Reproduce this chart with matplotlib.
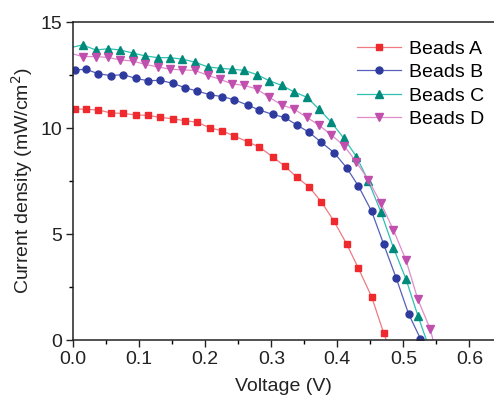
import matplotlib
matplotlib.use('Agg')
import matplotlib.pyplot as plt
from matplotlib.ticker import MultipleLocator

plt.rcParams['font.family'] = ['Liberation Sans', 'DejaVu Sans']

# voltage sweep points (V) for beads A and B
v_ab = [0.003, 0.019, 0.038, 0.057, 0.075, 0.095, 0.113, 0.131, 0.151, 0.169,
        0.187, 0.207, 0.226, 0.244, 0.264, 0.282, 0.302, 0.320, 0.339, 0.357,
        0.376, 0.395, 0.414, 0.432, 0.452, 0.470, 0.489, 0.508, 0.526]
# voltage sweep points (V) for beads C and D
v_cd = [0.014, 0.034, 0.053, 0.071, 0.090, 0.109, 0.128, 0.146, 0.165, 0.184,
        0.204, 0.222, 0.241, 0.259, 0.278, 0.297, 0.316, 0.334, 0.354, 0.372,
        0.391, 0.410, 0.429, 0.447, 0.466, 0.485, 0.504, 0.522, 0.541]

beads_a = [10.91, 10.88, 10.85, 10.71, 10.69, 10.61, 10.60, 10.50, 10.44, 10.34,
           10.28, 10.01, 9.86, 9.62, 9.35, 9.10, 8.64, 8.21, 7.67, 7.23,
           6.51, 5.60, 4.54, 3.38, 2.04, 0.35]
beads_b = [12.74, 12.77, 12.56, 12.47, 12.52, 12.34, 12.23, 12.25, 12.11, 11.90,
           11.75, 11.57, 11.48, 11.33, 11.08, 10.85, 10.64, 10.50, 10.14, 9.80,
           9.32, 8.84, 8.13, 7.26, 6.07, 4.54, 2.94, 1.23, 0.06]
beads_c = [13.92, 13.68, 13.74, 13.68, 13.54, 13.40, 13.32, 13.32, 13.25, 13.11,
           12.88, 12.82, 12.77, 12.72, 12.52, 12.23, 12.01, 11.71, 11.45, 10.90,
           10.27, 9.51, 8.65, 7.50, 6.04, 4.35, 2.88, 1.15]
beads_d = [13.37, 13.37, 13.33, 13.21, 13.16, 13.00, 12.88, 12.78, 12.74, 12.72,
           12.48, 12.30, 12.08, 12.01, 11.84, 11.45, 11.08, 10.90, 10.50, 10.14,
           9.67, 9.17, 8.39, 7.55, 6.45, 5.19, 3.77, 1.92, 0.50]

# where each curve meets the axes (line only, no marker)
start_j = {'C': 13.82, 'D': 13.49}
end_v = {'A': 0.474, 'B': 0.528, 'C': 0.535, 'D': 0.545}

labels = ['Beads A', 'Beads B', 'Beads C', 'Beads D']
markers = ['s', 'o', '^', 'v']
msizes = [4.3, 5, 5.5, 5.5]
mcolors = ['#EE2A2E', '#2E3A9E', '#008A7C', '#C04FAE']
lcolors = ['#F07A80', '#5560B8', '#2EC0B0', '#E08CCB']

fig = plt.figure(figsize=(4.94, 3.98), dpi=100)
ax = fig.add_axes([0.1484, 0.1457, 0.8516, 0.799])

series = [('A', v_ab[:len(beads_a)], beads_a),
          ('B', v_ab[:len(beads_b)], beads_b),
          ('C', v_cd[:len(beads_c)], beads_c),
          ('D', v_cd[:len(beads_d)], beads_d)]

for i, (key, v, j) in enumerate(series):
    xs = list(v)
    ys = list(j)
    idx = list(range(len(xs)))
    if key in start_j:
        xs = [0.0] + xs
        ys = [start_j[key]] + ys
        idx = [k + 1 for k in idx]
    xs.append(end_v[key])
    ys.append(0.0)
    ax.plot(xs, ys, color=lcolors[i], lw=0.9, marker=markers[i], ms=msizes[i],
            mfc=mcolors[i], mec=mcolors[i], markevery=idx, label=labels[i])

ax.set_xlim(0, 0.6374)
ax.set_ylim(0, 15)
ax.xaxis.set_major_locator(MultipleLocator(0.1))
ax.xaxis.set_minor_locator(MultipleLocator(0.05))
ax.yaxis.set_major_locator(MultipleLocator(5))
ax.yaxis.set_minor_locator(MultipleLocator(2.5))
ax.xaxis.set_major_formatter(plt.FormatStrFormatter('%.1f'))
ax.tick_params(which='major', direction='out', length=5, width=1, labelsize=14,
               colors='#222222', pad=3)
ax.tick_params(which='minor', direction='out', length=3, width=1)
ax.spines['right'].set_visible(False)
for s in ['left', 'bottom', 'top']:
    ax.spines[s].set_linewidth(1.1)
    ax.spines[s].set_color('#222222')

ax.set_xlabel('Voltage (V)', fontsize=14, color='#222222', labelpad=7)
ax.set_ylabel('Current density (mW/cm$^2$)', fontsize=14, color='#222222', labelpad=4)

ax.legend(loc='upper right', bbox_to_anchor=(1.005, 0.98), frameon=False, fontsize=14,
          handlelength=2.3, handletextpad=0.4, labelspacing=0.3, borderaxespad=0.2)

fig.savefig('out.png', dpi=100)
